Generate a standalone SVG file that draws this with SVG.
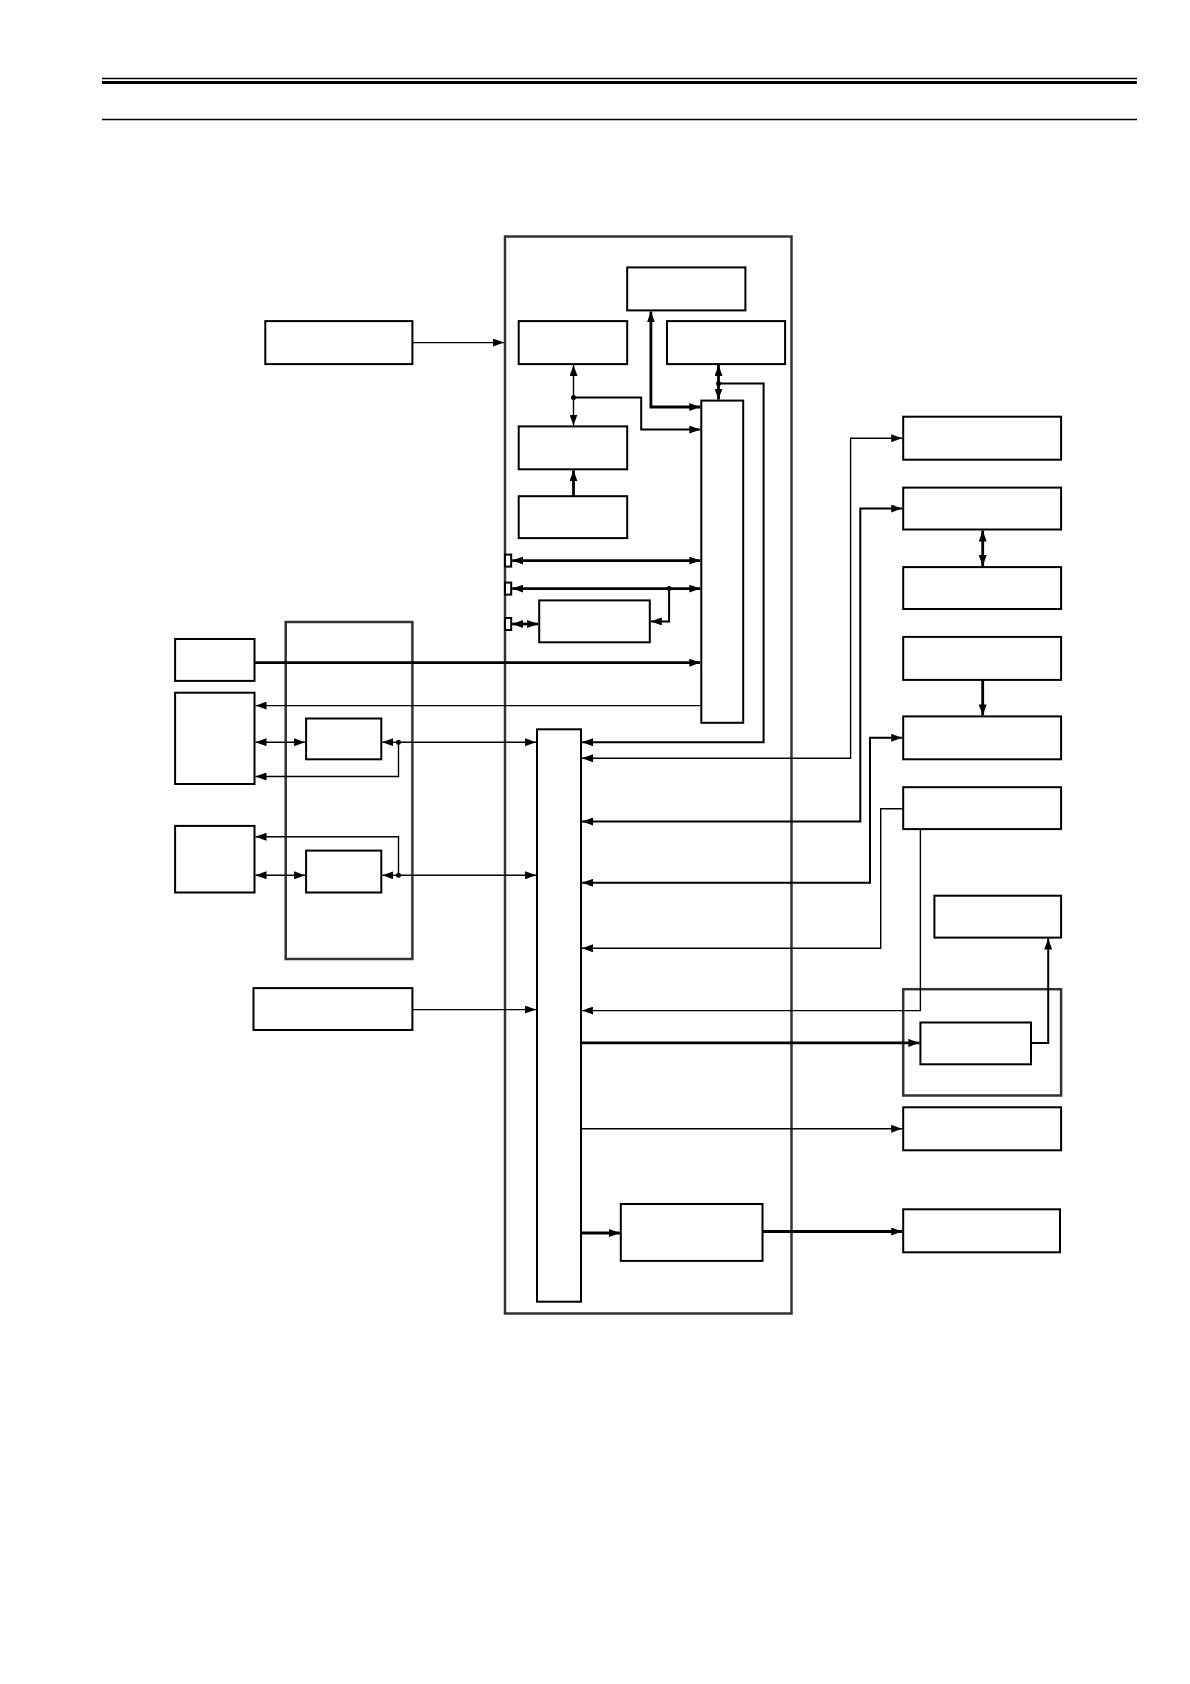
<svg xmlns="http://www.w3.org/2000/svg" width="1190" height="1684" viewBox="0 0 1190 1684">
<style>
.bx{fill:#fff;stroke:#000;stroke-width:2}
.pn{fill:none;stroke:#333;stroke-width:2.5}
.tn{fill:none;stroke:#000;stroke-width:1.4}
.md{fill:none;stroke:#000;stroke-width:2}
.tk{fill:none;stroke:#000;stroke-width:2.8}
.dot{fill:#000}
</style>
<defs>
<marker id="ah" markerUnits="userSpaceOnUse" markerWidth="11" markerHeight="8" refX="11" refY="4" orient="auto-start-reverse" viewBox="0 0 11 8">
<path d="M0,0 L11,4 L0,8 z" fill="#000"/>
</marker>
</defs>
<g id="header">
<line x1="102" y1="78.5" x2="1137" y2="78.5" stroke="#000" stroke-width="1.5"/>
<line x1="102" y1="82.5" x2="1137" y2="82.5" stroke="#000" stroke-width="3"/>
<line x1="102" y1="119.5" x2="1137" y2="119.5" stroke="#000" stroke-width="1.5"/>
</g>
<g id="main-board"><rect class="pn" x="505" y="236.5" width="286.5" height="1077"/></g>
<g id="panel-k"><rect class="pn" x="285.7" y="622" width="126.7" height="337"/></g>
<g id="panel-r8"><rect class="pn" x="903.2" y="989.2" width="157.9" height="106.3"/></g>
<g id="node-a"><rect class="bx" x="627.2" y="267.4" width="118.2" height="43"/></g>
<g id="node-b"><rect class="bx" x="518.7" y="321.1" width="108.5" height="43"/></g>
<g id="node-c"><rect class="bx" x="667" y="321.1" width="118.1" height="43"/></g>
<g id="node-d"><rect class="bx" x="518.7" y="426.4" width="108.5" height="42.9"/></g>
<g id="node-e"><rect class="bx" x="518.7" y="496.2" width="108.5" height="41.9"/></g>
<g id="node-f"><rect class="bx" x="701.3" y="400.6" width="41.9" height="322.2"/></g>
<g id="node-g"><rect class="bx" x="539.2" y="600.4" width="110.6" height="41.9"/></g>
<g id="port-1"><rect class="bx" x="505" y="554.6" width="6.2" height="12" stroke-width="1.5"/></g>
<g id="port-2"><rect class="bx" x="505" y="582.6" width="6.2" height="12" stroke-width="1.5"/></g>
<g id="port-3"><rect class="bx" x="505" y="618" width="6.2" height="12" stroke-width="1.5"/></g>
<g id="node-h"><rect class="bx" x="265.3" y="321.1" width="147.1" height="43"/></g>
<g id="node-l"><rect class="bx" x="175.1" y="639" width="79.4" height="41.9"/></g>
<g id="node-m"><rect class="bx" x="175.1" y="692.7" width="79.4" height="91.3"/></g>
<g id="node-n"><rect class="bx" x="175.1" y="825.9" width="79.4" height="66.6"/></g>
<g id="node-p"><rect class="bx" x="306.1" y="718.5" width="75.2" height="40.8" stroke-width="1.6"/></g>
<g id="node-q"><rect class="bx" x="306.1" y="850.6" width="75.2" height="41.9" stroke-width="1.6"/></g>
<g id="node-r"><rect class="bx" x="253.5" y="988.1" width="158.9" height="41.9"/></g>
<g id="node-j"><rect class="bx" x="537" y="729.3" width="44" height="572.4"/></g>
<g id="node-s"><rect class="bx" x="620.8" y="1204" width="141.7" height="56.9"/></g>
<g id="node-r1"><rect class="bx" x="903.2" y="416.7" width="157.9" height="43"/></g>
<g id="node-r2"><rect class="bx" x="903.2" y="487.6" width="157.9" height="41.9"/></g>
<g id="node-r3"><rect class="bx" x="903.2" y="567.1" width="157.9" height="41.9"/></g>
<g id="node-r4"><rect class="bx" x="903.2" y="636.9" width="157.9" height="43"/></g>
<g id="node-r5"><rect class="bx" x="903.2" y="716.4" width="157.9" height="42.9"/></g>
<g id="node-r6"><rect class="bx" x="903.2" y="787.2" width="157.9" height="41.9"/></g>
<g id="node-r7"><rect class="bx" x="934.4" y="895.7" width="126.7" height="41.9"/></g>
<g id="node-r8"><rect class="bx" x="920.4" y="1022.5" width="110.6" height="41.8"/></g>
<g id="node-r9"><rect class="bx" x="903.2" y="1107.3" width="157.9" height="43"/></g>
<g id="node-r10"><rect class="bx" x="903.2" y="1209.3" width="156.8" height="43"/></g>
<g id="connectors">
<line class="tn" x1="412.4" y1="342.6" x2="504" y2="342.6" marker-end="url(#ah)"/>
<line class="tn" x1="573.5" y1="365" x2="573.5" y2="425.5" marker-start="url(#ah)" marker-end="url(#ah)"/>
<polyline class="md" points="573.5,397.4 641.2,397.4 641.2,429.6 700.3,429.6" marker-end="url(#ah)"/>
<circle class="dot" cx="573.5" cy="397.4" r="2.5"/>
<polyline class="tk" points="650.9,311.4 650.9,407 700.3,407" marker-start="url(#ah)" marker-end="url(#ah)"/>
<line class="tk" x1="718.5" y1="365" x2="718.5" y2="399.6" marker-start="url(#ah)" marker-end="url(#ah)"/>
<polyline class="md" points="718.5,383.4 763.6,383.4 763.6,742.2 582,742.2" marker-end="url(#ah)"/>
<circle class="dot" cx="718.5" cy="383.4" r="2.5"/>
<line class="tk" x1="573.5" y1="496.2" x2="573.5" y2="470.3" marker-end="url(#ah)"/>
<line class="tk" x1="512.2" y1="560.6" x2="700.3" y2="560.6" marker-start="url(#ah)" marker-end="url(#ah)"/>
<line class="tk" x1="512.2" y1="588.6" x2="700.3" y2="588.6" marker-start="url(#ah)" marker-end="url(#ah)"/>
<polyline class="md" points="669.1,588.6 669.1,621.4 650.8,621.4" marker-end="url(#ah)"/>
<circle class="dot" cx="669.1" cy="588.6" r="2.5"/>
<line class="tk" x1="512.2" y1="624" x2="538.2" y2="624" marker-start="url(#ah)" marker-end="url(#ah)"/>
<line class="tk" x1="254.5" y1="662.7" x2="700.3" y2="662.7" marker-end="url(#ah)"/>
<line class="tn" x1="700.3" y1="705.6" x2="255.5" y2="705.6" marker-end="url(#ah)"/>
<line class="tn" x1="255.5" y1="742.2" x2="305.1" y2="742.2" marker-start="url(#ah)" marker-end="url(#ah)"/>
<line class="tn" x1="398.5" y1="742.2" x2="382.3" y2="742.2" marker-end="url(#ah)"/>
<line class="tn" x1="398.5" y1="742.2" x2="536" y2="742.2" marker-end="url(#ah)"/>
<polyline class="tn" points="398.5,742.2 398.5,776.5 255.5,776.5" marker-end="url(#ah)"/>
<circle class="dot" cx="398.5" cy="742.2" r="2.5"/>
<line class="tn" x1="255.5" y1="875.3" x2="305.1" y2="875.3" marker-start="url(#ah)" marker-end="url(#ah)"/>
<line class="tn" x1="398.5" y1="875.3" x2="382.3" y2="875.3" marker-end="url(#ah)"/>
<line class="tn" x1="398.5" y1="875.3" x2="536" y2="875.3" marker-end="url(#ah)"/>
<polyline class="tn" points="398.5,875.3 398.5,836.7 255.5,836.7" marker-end="url(#ah)"/>
<circle class="dot" cx="398.5" cy="875.3" r="2.5"/>
<line class="tn" x1="412.4" y1="1009.6" x2="536" y2="1009.6" marker-end="url(#ah)"/>
<polyline class="tn" points="582,758.3 850.6,758.3 850.6,438.2 902.2,438.2" marker-start="url(#ah)" marker-end="url(#ah)"/>
<polyline class="md" points="582,821.6 860.3,821.6 860.3,508.5 902.2,508.5" marker-start="url(#ah)" marker-end="url(#ah)"/>
<line class="tk" x1="982.7" y1="530.5" x2="982.7" y2="566.1" marker-start="url(#ah)" marker-end="url(#ah)"/>
<line class="tk" x1="982.7" y1="679.9" x2="982.7" y2="715.4" marker-end="url(#ah)"/>
<polyline class="md" points="582,882.8 870,882.8 870,737.8 902.2,737.8" marker-start="url(#ah)" marker-end="url(#ah)"/>
<polyline class="tn" points="903.2,808.7 880.7,808.7 880.7,948.3 582,948.3" marker-end="url(#ah)"/>
<polyline class="tn" points="920.4,829.1 920.4,1010.6 582,1010.6" marker-end="url(#ah)"/>
<line class="tk" x1="581" y1="1042.9" x2="919.4" y2="1042.9" marker-end="url(#ah)"/>
<polyline class="md" points="1031,1042.9 1048.2,1042.9 1048.2,938.6" marker-end="url(#ah)"/>
<line class="tn" x1="581" y1="1128.8" x2="902.2" y2="1128.8" marker-end="url(#ah)"/>
<line class="tk" x1="581" y1="1233" x2="619.8" y2="1233" marker-end="url(#ah)"/>
<line class="tk" x1="762.5" y1="1231.5" x2="902.2" y2="1231.5" marker-end="url(#ah)"/>
</g>
</svg>
